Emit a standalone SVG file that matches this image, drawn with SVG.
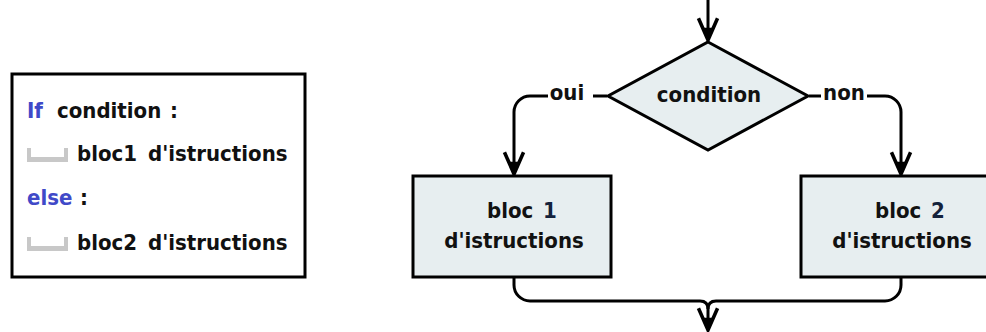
<svg xmlns="http://www.w3.org/2000/svg" width="986" height="332" viewBox="0 0 986 332">
<style>
text{font-family:"DejaVu Sans Condensed","DejaVu Sans",sans-serif;font-stretch:condensed;font-weight:bold;font-size:22px;fill:#111}
.kw{fill:#4049c8}
.shape{fill:#e7eef0;stroke:#000;stroke-width:3}
.conn{fill:none;stroke:#000;stroke-width:3;stroke-linejoin:round}
.ind{fill:#c8c8c8}
</style>
<defs>
<marker id="arr" markerUnits="userSpaceOnUse" markerWidth="30" markerHeight="30" viewBox="-20 -10 22 20" refX="0" refY="0" orient="auto" overflow="visible">
<path d="M-16,-7 L0,0 L-16,7" fill="none" stroke="#000" stroke-width="2.6" stroke-linejoin="miter"/>
<path d="M-9,-3.5 L0,0 L-9,3.5 Z" fill="#000"/>
</marker>
</defs>
<rect width="986" height="332" fill="#fff"/>
<g id="code">
<rect x="12" y="74" width="293" height="203" fill="#fff" stroke="#000" stroke-width="3"/>
<text x="27" y="118"><tspan class="kw">If</tspan><tspan x="57">condition</tspan><tspan x="170">:</tspan></text>
<path class="ind" d="M27,148 h4 v9 h33 v-9 h4 v14 h-41 z"/>
<text x="77" y="161">bloc1<tspan x="148">d'istructions</tspan></text>
<text x="27" y="205"><tspan class="kw">else</tspan><tspan x="80">:</tspan></text>
<path class="ind" d="M27,237 h4 v9 h33 v-9 h4 v14 h-41 z"/>
<text x="77" y="250">bloc2<tspan x="148">d'istructions</tspan></text>
</g>
<g id="connectors">
<path class="conn" d="M708,0 L708,40" marker-end="url(#arr)"/>
<path class="conn" d="M607,96 L593,96"/>
<path class="conn" d="M548,96 L530,96 A16,16 0 0 0 514,112 L514,174" marker-end="url(#arr)"/>
<path class="conn" d="M809,96 L821,96"/>
<path class="conn" d="M867,96 L885,96 A16,16 0 0 1 901,112 L901,174" marker-end="url(#arr)"/>
<path class="conn" d="M514,278 L514,285 A16,16 0 0 0 530,301 L700,301 Q708,301 708,309 L708,330" marker-end="url(#arr)"/>
<path class="conn" d="M901,278 L901,285 A16,16 0 0 1 885,301 L716,301 Q708,301 708,309"/>
</g>
<g id="decision">
<polygon class="shape" points="708,42 808,96 708,150 608,96"/>
<text x="709" y="102" text-anchor="middle">condition</text>
</g>
<g id="label-oui"><text x="567" y="100" text-anchor="middle">oui</text></g>
<g id="label-non"><text x="844" y="100" text-anchor="middle">non</text></g>
<g id="bloc1">
<rect class="shape" x="413" y="176" width="198" height="101"/>
<text x="487" y="218">bloc<tspan x="543" fill="#14223c">1</tspan></text>
<text x="514" y="248" text-anchor="middle">d'istructions</text>
</g>
<g id="bloc2">
<rect class="shape" x="801" y="176" width="198" height="101"/>
<text x="875" y="218">bloc<tspan x="931" fill="#14223c">2</tspan></text>
<text x="902" y="248" text-anchor="middle">d'istructions</text>
</g>
</svg>
